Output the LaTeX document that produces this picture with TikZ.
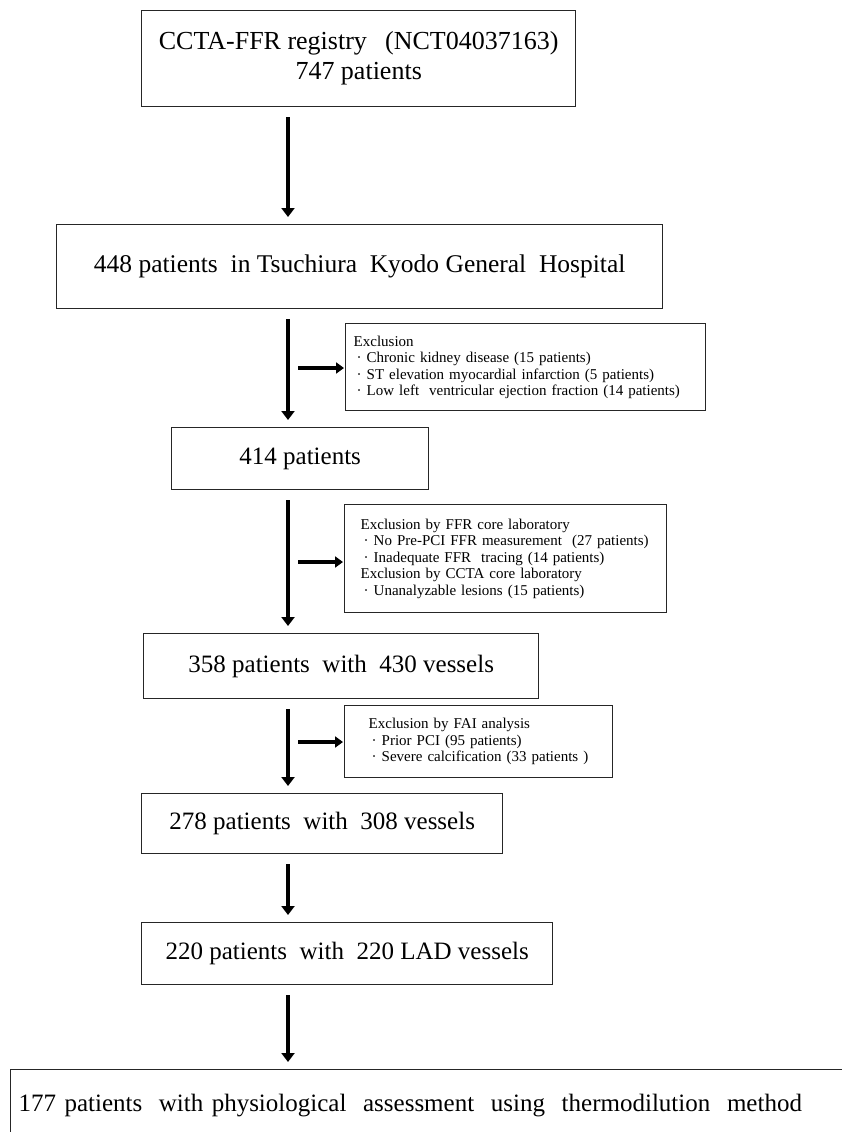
\documentclass[tikz,border=0pt]{standalone}
\usepackage{fontspec}
\setmainfont{Liberation Serif}
\usetikzlibrary{arrows.meta,positioning,calc}

\begin{document}
\begin{tikzpicture}[
  flowbox/.style={draw=black!85, line width=1.4pt, align=center, inner sep=0pt, font=\fontsize{25}{30}\selectfont},
  exclbox/.style={draw=black!85, line width=1.4pt, align=left, inner ysep=0pt, font=\fontsize{15}{16.5}\selectfont},
  flowarrow/.style={-{Triangle[width=13pt,length=9pt]}, line width=4.5pt, shorten <=10pt, shorten >=7pt},
  sidearrow/.style={-{Triangle[width=11pt,length=8pt]}, line width=4pt, shorten >=1pt}
]
\useasboundingbox (0,0) rectangle (841pt,-1132pt);
\coordinate(O1) at (0,0);
\coordinate(ax) at (288pt,0);

\node[below right=10pt and 141pt of O1, flowbox, font=\fontsize{26}{30}\selectfont, minimum width=434pt, minimum height=96pt](a) {CCTA-FFR registry\hspace{0.7em}(NCT04037163)\\747 patients};
\node[below right=224pt and 56pt of O1, flowbox, font=\fontsize{25.5}{30}\selectfont, minimum width=606pt, minimum height=84pt](b) {448 patients~ in Tsuchiura~ Kyodo General~ Hospital};
\node[below right=427pt and 171pt of O1, flowbox, minimum width=257pt, minimum height=62pt](c) {414 patients};
\node[below right=633pt and 143pt of O1, flowbox, minimum width=395pt, minimum height=65pt](d) {358 patients~ with~ 430 vessels};
\node[below right=793pt and 141pt of O1, flowbox, minimum width=361pt, minimum height=60pt](e) {278 patients~ with~ 308 vessels};
\node[below right=922pt and 141pt of O1, flowbox, minimum width=411pt, minimum height=62pt](f) {220 patients~ with~ 220 LAD vessels};
\node[below right=1069pt and 10pt of O1, flowbox, align=left, inner xsep=8pt, text width=990pt, minimum height=72pt](g) {177 patients~ with physiological~ assessment~ using~ thermodilution~ method};

% exclusions
\node[below right=323pt and 345pt of O1, exclbox, inner xsep=8pt, text width=344pt, minimum height=87pt](bx) {Exclusion\\
\hspace{3pt}· Chronic kidney disease (15 patients)\\
\hspace{3pt}· ST elevation myocardial infarction (5 patients)\\
\hspace{3pt}· Low left~ ventricular ejection fraction (14 patients)};
\node[below right=504pt and 344pt of O1, exclbox, inner xsep=10pt, text width=302pt, minimum height=108pt](cx) {\hspace{6pt}Exclusion by FFR core laboratory\\
\hspace{9pt}· No Pre-PCI FFR measurement~ (27 patients)\\
\hspace{9pt}· Inadequate FFR~ tracing (14 patients)\\
\hspace{6pt}Exclusion by CCTA core laboratory\\
\hspace{9pt}· Unanalyzable lesions (15 patients)};
\node[below right=705pt and 344pt of O1, exclbox, inner xsep=24pt, text width=220pt, minimum height=72pt](dx) {Exclusion by FAI analysis\\
\hspace{3pt}· Prior PCI (95 patients)\\
\hspace{3pt}· Severe calcification (33 patients )};

\coordinate(bs) at (298pt,-368pt);
\coordinate(cs) at (298pt,-562pt);
\coordinate(ds) at (298pt,-742pt);

\draw[flowarrow] (a.south -| ax) -- (b.north -| ax);
\draw[flowarrow] (b.south -| ax) -- (c.north -| ax);
\draw[flowarrow] (c.south -| ax) -- (d.north -| ax);
\draw[flowarrow] (d.south -| ax) -- (e.north -| ax);
\draw[flowarrow] (e.south -| ax) -- (f.north -| ax);
\draw[flowarrow] (f.south -| ax) -- (g.north -| ax);
\draw[sidearrow] (bs) -- (bs -| bx.west);
\draw[sidearrow] (cs) -- (cs -| cx.west);
\draw[sidearrow] (ds) -- (ds -| dx.west);
\end{tikzpicture}
\end{document}
